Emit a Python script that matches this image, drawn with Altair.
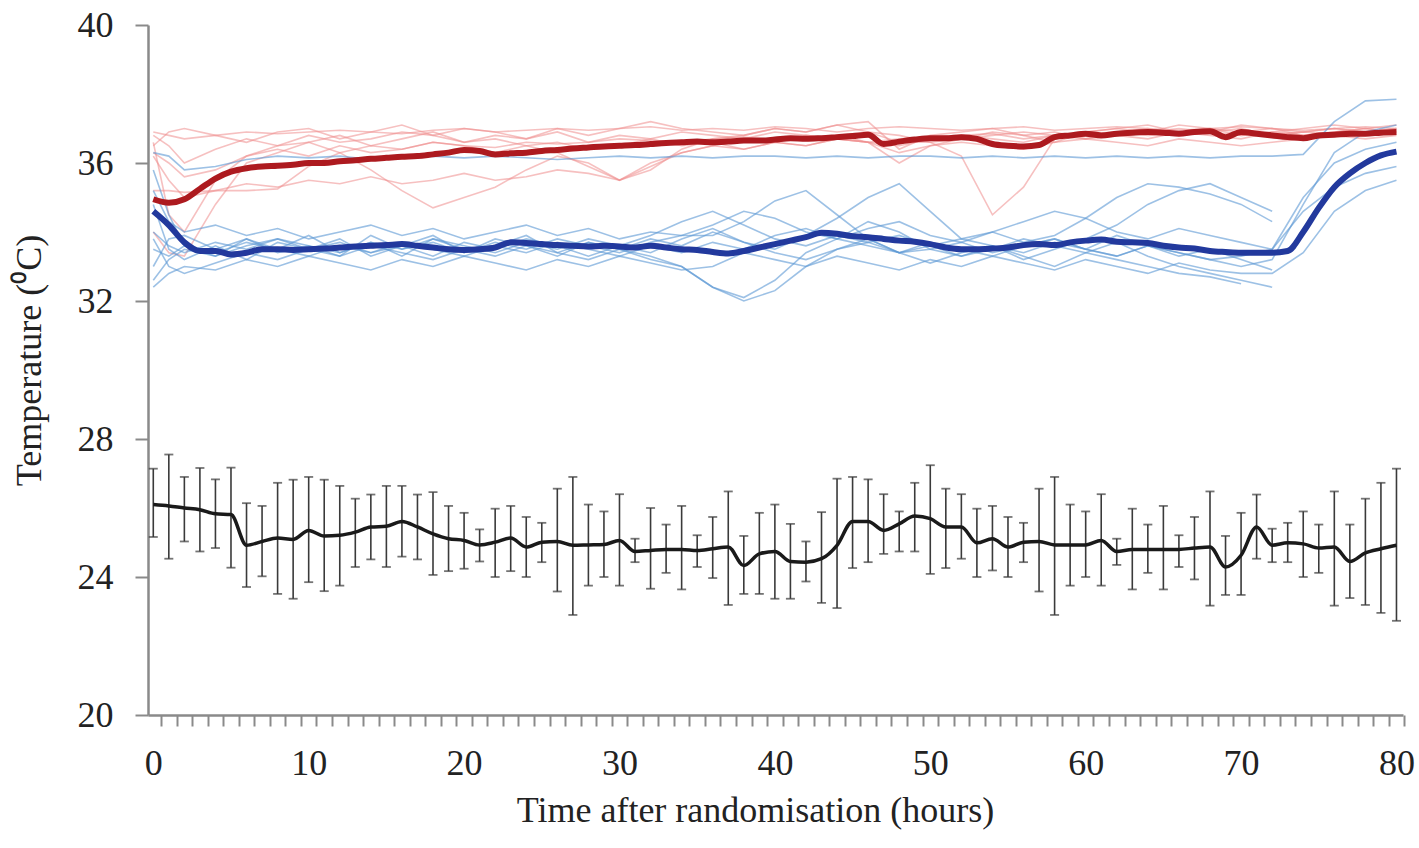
import altair as alt
import pandas as pd

# ---------------- data ----------------
HOURS = list(range(0, 81))

BLACK_MEAN = [26.10, 26.06, 26.00, 25.95, 25.83, 25.81, 24.92, 25.03, 25.13, 25.09,
              25.35, 25.19, 25.21, 25.30, 25.45, 25.47, 25.61, 25.45, 25.25, 25.11,
              25.06, 24.93, 25.01, 25.13, 24.87, 25.01, 25.03, 24.92, 24.93, 24.94,
              25.06, 24.74, 24.77, 24.80, 24.80, 24.77, 24.82, 24.87, 24.33, 24.67,
              24.74, 24.45, 24.43, 24.53, 24.92, 25.61, 25.61, 25.35, 25.54, 25.77,
              25.69, 25.45, 25.45, 24.99, 25.11, 24.87, 25.01, 25.03, 24.93, 24.93,
              24.93, 25.06, 24.74, 24.80, 24.80, 24.80, 24.80, 24.84, 24.87, 24.29,
              24.63, 25.45, 24.92, 24.99, 24.96, 24.84, 24.87, 24.45, 24.70, 24.82,
              24.92]
BLACK_HI = [27.14, 27.55, 26.90, 27.16, 26.83, 27.17, 26.14, 26.06, 26.73, 26.82,
            26.90, 26.82, 26.64, 26.27, 26.39, 26.64, 26.64, 26.39, 26.46, 26.06,
            25.86, 25.38, 25.98, 26.06, 25.74, 25.57, 26.56, 26.90, 26.10, 25.90,
            26.40, 25.11, 26.00, 25.52, 26.06, 25.21, 25.74, 26.48, 25.19, 25.86,
            26.10, 25.54, 25.03, 25.88, 26.85, 26.90, 26.83, 26.40, 25.90, 26.73,
            27.24, 26.56, 26.40, 25.98, 26.06, 25.74, 25.57, 26.56, 26.90, 26.10,
            25.90, 26.40, 25.11, 25.98, 25.52, 26.06, 25.21, 25.74, 26.48, 25.19,
            25.86, 26.39, 25.40, 25.57, 25.90, 25.52, 26.48, 25.52, 26.27, 26.73,
            27.14]
BLACK_LO = [25.16, 24.53, 25.03, 24.74, 24.84, 24.27, 23.71, 24.02, 23.51, 23.37,
            23.85, 23.59, 23.75, 24.29, 24.51, 24.29, 24.59, 24.51, 24.06, 24.17,
            24.24, 24.45, 24.00, 24.17, 24.00, 24.43, 23.58, 22.90, 23.75, 24.00,
            23.75, 24.43, 23.66, 24.12, 23.64, 24.29, 23.97, 23.19, 23.51, 23.51,
            23.37, 23.37, 23.87, 23.25, 23.10, 24.26, 24.43, 24.67, 24.74, 24.74,
            24.09, 24.26, 24.53, 24.00, 24.19, 24.00, 24.43, 23.58, 22.90, 23.75,
            24.00, 23.75, 24.35, 23.64, 24.12, 23.64, 24.29, 23.93, 23.17, 23.48,
            23.48, 24.53, 24.43, 24.43, 24.00, 24.12, 23.17, 23.39, 23.19, 22.96,
            22.73]

RED_MEAN = [34.95, 34.85, 34.95, 35.25, 35.55, 35.75, 35.85, 35.90, 35.92, 35.95,
            36.00, 36.00, 36.05, 36.08, 36.12, 36.15, 36.18, 36.20, 36.25, 36.30,
            36.38, 36.35, 36.25, 36.28, 36.30, 36.35, 36.38, 36.42, 36.45, 36.48,
            36.50, 36.52, 36.55, 36.58, 36.60, 36.62, 36.60, 36.62, 36.65, 36.65,
            36.68, 36.72, 36.70, 36.72, 36.75, 36.78, 36.82, 36.55, 36.62, 36.68,
            36.72, 36.72, 36.75, 36.70, 36.55, 36.50, 36.48, 36.52, 36.75, 36.80,
            36.85, 36.80, 36.85, 36.88, 36.90, 36.88, 36.85, 36.90, 36.92, 36.75,
            36.90, 36.85, 36.80, 36.75, 36.72, 36.80, 36.82, 36.85, 36.85, 36.88,
            36.90]
BLUE_MEAN = [34.60, 34.20, 33.70, 33.45, 33.45, 33.35, 33.40, 33.50, 33.50, 33.48,
             33.50, 33.52, 33.55, 33.58, 33.60, 33.62, 33.65, 33.60, 33.55, 33.50,
             33.48, 33.50, 33.55, 33.70, 33.68, 33.65, 33.62, 33.60, 33.58, 33.60,
             33.58, 33.55, 33.60, 33.55, 33.50, 33.48, 33.42, 33.38, 33.45, 33.55,
             33.65, 33.75, 33.85, 33.98, 33.95, 33.88, 33.85, 33.80, 33.75, 33.72,
             33.65, 33.55, 33.50, 33.50, 33.52, 33.55, 33.62, 33.65, 33.62, 33.70,
             33.75, 33.78, 33.72, 33.70, 33.68, 33.60, 33.55, 33.52, 33.45, 33.42,
             33.40, 33.40, 33.40, 33.45, 34.00, 34.70, 35.30, 35.70, 36.00, 36.22,
             36.33]

THIN_HOURS = [0, 1, 2, 4, 6, 8, 10, 12, 14, 16, 18, 20, 22, 24, 26, 28, 30, 32, 34, 36,
              38, 40, 42, 44, 46, 48, 50, 52, 54, 56, 58, 60, 62, 64, 66, 68, 70, 72, 74, 76,
              78, 80]

RED_THIN = {
    "r1": [36.9, 36.8, 36.7, 36.8, 36.9, 36.85, 36.9, 36.95, 36.9, 36.85,
           36.95, 37.0, 36.9, 36.95, 37.0, 36.95, 37.0, 37.05, 36.95, 37.0,
           36.95, 37.05, 37.0, 36.9, 37.0, 37.05, 37.0, 36.95, 37.0, 37.05,
           36.95, 37.0, 37.05, 37.0, 36.95, 37.0, 37.05, 37.0, 36.95, 37.0,
           37.05, 37.0],
    "r2": [35.2, 35.2, 35.15, 35.2, 35.2, 35.25, 35.9, 36.3, 36.5, 36.4,
           36.6, 36.5, 36.45, 36.6, 36.55, 36.6, 36.7, 36.65, 36.6, 36.7,
           36.75, 36.65, 36.7, 36.8, 36.6, 36.7, 36.75, 36.8, 36.85, 36.7,
           36.8, 36.85, 36.9, 36.8, 36.85, 36.9, 36.8, 36.85, 36.9, 36.85,
           36.9, 36.95],
    "r3": [34.0, 33.4, 33.3, 34.8, 36.0, 36.3, 36.6, 36.8, 36.5, 36.7,
           36.9, 36.6, 36.8, 36.7, 36.9, 36.6, 36.8, 36.7, 36.9, 36.8,
           36.7, 36.9, 36.8, 36.7, 36.6, 36.0, 36.5, 36.7, 36.8, 36.9,
           36.8, 36.7, 36.9, 37.0, 36.8, 36.9, 37.0, 36.8, 36.9, 37.0,
           36.9, 37.0],
    "r4": [36.2, 35.5, 35.0, 35.2, 35.4, 35.3, 35.5, 35.4, 35.6, 35.4,
           35.5, 35.7, 35.5, 35.6, 35.8, 35.7, 35.5, 36.0, 36.3, 36.5,
           36.4, 36.6, 36.5, 36.7, 36.6, 36.5, 36.7, 36.8, 36.7, 36.6,
           36.8, 36.9, 36.8, 36.7, 36.9, 36.8, 36.7, 36.9, 36.8, 36.9,
           37.0, 36.9],
    "r5": [36.8, 36.5, 36.0, 36.4, 36.7, 36.5, 36.6, 36.3, 35.8, 35.2,
           34.7, 35.0, 35.3, 35.8, 36.2, 36.0, 35.5, 35.9, 36.3, 36.5,
           36.7, 36.6, 36.8, 36.7, 36.9, 36.8, 36.6, 36.7, 36.9, 36.8,
           36.9, 36.7, 36.8, 36.9, 37.0, 36.9, 37.1, 37.0, 36.8, 36.9,
           37.0, 37.1],
    "r6": [36.5, 36.9, 37.0, 36.8, 36.6, 36.9, 37.0, 36.7, 36.9, 37.1,
           36.8, 37.0, 36.9, 36.7, 37.0, 36.8, 37.0, 37.2, 37.0, 36.9,
           36.8, 37.0, 36.9, 37.1, 36.9, 36.6, 36.6, 36.2, 34.5, 35.3,
           36.7, 36.9, 37.0, 36.9, 37.1, 37.0, 36.9, 37.0, 36.9, 37.0,
           36.9, 37.0],
    "r7": [36.3, 36.0, 35.6, 35.8, 36.2, 36.5, 36.8, 36.6, 36.7, 36.9,
           36.8, 36.6, 36.7, 36.5, 36.3, 35.9, 35.5, 35.8, 36.4, 36.7,
           36.8, 37.0, 36.9, 37.1, 37.2, 36.4, 36.8, 36.9, 37.0, 36.8,
           36.6, 36.9, 37.0, 37.1, 36.9, 37.0, 36.8, 36.9, 37.0, 37.1,
           37.0, 36.9],
    "r8": [36.6, 34.5, 34.0, 35.5, 36.2, 36.4, 36.2, 36.5, 36.3, 36.4,
           36.6, 36.5, 36.3, 36.5, 36.6, 36.4, 36.5, 36.7, 36.5, 36.6,
           36.4, 36.6, 36.5, 36.7, 36.6, 36.3, 36.5, 36.6, 36.5, 36.4,
           36.6, 36.7, 36.6, 36.5, 36.7, 36.6, 36.5, 36.6, 36.7, 36.8,
           36.7, 36.8],
}

BLUE_THIN = {
    "b1": [36.3, 36.2, 35.8, 35.9, 36.1, 36.2, 36.15, 36.2, 36.1, 36.15,
           36.2, 36.15, 36.2, 36.15, 36.1, 36.15, 36.2, 36.15, 36.2, 36.15,
           36.2, 36.2, 36.15, 36.2, 36.15, 36.2, 36.2, 36.15, 36.2, 36.15,
           36.2, 36.15, 36.2, 36.15, 36.2, 36.15, 36.2, 36.2, 36.25, 37.2,
           37.8, 37.85],
    "b2": [35.8, 34.5, 33.6, 33.3, 33.8, 33.5, 33.9, 33.4, 33.7, 33.3,
           33.8, 33.5, 33.6, 33.9, 33.4, 33.7, 33.5, 33.2, 33.0, 32.4,
           32.1, 32.6, 33.4, 33.8, 34.3, 34.0, 33.5, 33.3, 33.6, 33.2,
           33.5, 33.8, 34.2, 34.8, 35.2, 35.4, 35.0, 34.6, None, None,
           None, None],
    "b3": [34.8, 33.5, 33.2, 33.6, 33.2, 33.7, 33.5, 33.8, 33.3, 33.6,
           33.9, 33.4, 33.7, 33.5, 33.8, 33.6, 33.4, 33.7, 33.9, 33.9,
           34.3, 34.9, 35.2, 34.5, 33.8, 33.4, 33.5, 33.7, 33.4, 33.6,
           33.8, 33.5, 33.3, 33.6, 33.4, 33.2, 33.0, 33.2, 34.8, 36.3,
           36.9, 37.1],
    "b4": [33.0, 33.8, 33.9, 33.5, 33.8, 33.4, 33.6, 33.3, 33.9, 33.5,
           33.7, 33.4, 33.8, 33.6, 33.3, 33.7, 33.5, 33.8, 33.6, 34.0,
           33.7, 33.5, 33.9, 34.4, 35.0, 35.4, 34.6, 33.8, 33.6, 33.4,
           33.7, 33.5, 33.9, 33.6, 33.3, 33.5, 33.2, 32.9, None, None,
           None, None],
    "b5": [32.4, 32.8, 33.0, 32.9, 33.2, 33.0, 33.3, 33.1, 32.9, 33.2,
           33.0, 33.3, 33.1, 32.9, 33.2, 33.0, 33.3, 33.1, 32.9, 33.0,
           33.4, 33.2, 33.0, 33.3, 33.1, 32.9, 33.2, 33.0, 33.3, 33.1,
           32.9, 33.2, 33.0, 32.8, 33.1, 32.9, 32.8, 32.8, 33.4, 34.6,
           35.2, 35.5],
    "b6": [35.2, 34.3, 34.0, 34.2, 33.9, 34.1, 33.8, 34.0, 34.2, 33.9,
           34.1, 33.8, 34.0, 34.2, 33.9, 34.1, 33.8, 34.0, 33.9, 34.2,
           34.6, 34.4, 34.0, 33.8, 34.1, 34.3, 33.9, 33.7, 34.0, 34.3,
           34.6, 34.4, 34.0, 33.8, 34.1, 33.9, 33.7, 33.5, 35.0, 36.0,
           36.4, 36.6],
    "b7": [33.8, 33.0, 32.8, 33.1, 33.4, 33.2, 33.5, 33.3, 33.6, 33.4,
           33.2, 33.5, 33.3, 33.6, 33.4, 33.2, 33.5, 33.3, 33.0, 32.4,
           32.0, 32.3, 33.0, 33.5, 33.8, 33.4, 33.1, 33.4, 33.6, 33.3,
           33.0, 33.4, 33.7, 33.3, 33.0, 32.8, 32.6, 32.4, None, None,
           None, None],
    "b8": [34.0, 33.6, 33.4, 33.7, 33.5, 33.8, 33.6, 33.4, 33.7, 33.5,
           33.8, 33.6, 33.4, 33.7, 33.5, 33.8, 33.6, 33.9, 34.3, 34.6,
           34.2, 33.8, 33.6, 33.9, 33.7, 33.4, 33.6, 33.8, 34.0, 33.7,
           33.9, 34.4, 35.0, 35.4, 35.3, 35.1, 34.8, 34.3, None, None,
           None, None],
    "b9": [33.5, 33.3, 33.6, 33.4, 33.7, 33.5, 33.3, 33.6, 33.4, 33.7,
           33.5, 33.3, 33.6, 33.4, 33.7, 33.5, 33.3, 33.6, 33.4, 33.7,
           33.5, 33.9, 34.1, 33.8, 33.6, 33.4, 33.7, 33.5, 33.3, 33.6,
           33.8, 33.5, 33.3, 33.6, 33.4, 33.2, 33.3, 33.5, 34.6, 35.3,
           35.7, 35.9],
    "b10": [32.6, 33.2, 33.5, 33.3, 33.6, 33.8, 33.5, 33.7, 33.4, 33.6,
            33.3, 33.7, 33.5, 33.8, 33.6, 33.3, 33.6, 33.4, 33.8, 34.1,
            33.7, 33.4, 33.2, 33.5, 33.7, 33.9, 33.6, 33.3, 33.5, 33.8,
            33.6, 33.4, 33.2, 33.0, 32.8, 32.7, 32.5, None, None, None,
            None, None],
}

Y_TICKS = [20, 24, 28, 32, 36, 40]
X_TITLE = "Time after randomisation (hours)"
Y_TITLE = "Temperature (\u2070C)"

# ---------------- tables ----------------
rows = []
for grp, dct in (("red", RED_THIN), ("blue", BLUE_THIN)):
    for name, vals in dct.items():
        for h, v in zip(THIN_HOURS, vals):
            if v is not None:
                rows.append({"hour": h, "temp": v, "series": name, "group": grp})
thin_df = pd.DataFrame(rows)

mean_rows = []
for name, vals in (("red", RED_MEAN), ("blue", BLUE_MEAN)):
    for h, v in zip(HOURS, vals):
        mean_rows.append({"hour": h, "temp": v, "group": name})
mean_df = pd.DataFrame(mean_rows)

black_df = pd.DataFrame({"hour": HOURS, "mean": BLACK_MEAN, "hi": BLACK_HI, "lo": BLACK_LO})

# ---------------- scales / axes ----------------
FONT = "Liberation Serif"
AX_GRAY = "#8a8a8a"
TXT = "#222222"
PXH = 1255 / (80.42 + 0.34)

x_scale = alt.Scale(domain=[-0.34, 80.42], nice=False, zero=False)
y_scale = alt.Scale(domain=[20, 40], nice=False, zero=False)

x_axis = alt.Axis(
    values=HOURS,
    labelExpr="datum.value % 10 == 0 ? datum.label : ''",
    tickOffset=PXH / 2, labelOffset=-PXH / 2,
    tickSize=11, tickWidth=2, tickColor=AX_GRAY,
    domainColor=AX_GRAY, domainWidth=2.5,
    labelFont=FONT, labelFontSize=36, labelColor=TXT, labelPadding=20,
    labelOverlap=False, labelFlush=False, grid=False,
    title=X_TITLE, titleFont=FONT, titleFontSize=36, titleFontWeight="normal",
    titleColor=TXT, titleX=607, titleY=106, titleAlign="center",
    titleBaseline="alphabetic",
)
y_axis = alt.Axis(
    values=Y_TICKS,
    tickSize=13, tickWidth=2, tickColor=AX_GRAY,
    domainColor=AX_GRAY, domainWidth=2.5,
    labelFont=FONT, labelFontSize=36, labelColor=TXT, labelPadding=22,
    grid=False,
    title=Y_TITLE, titleFont=FONT, titleFontSize=36, titleFontWeight="normal",
    titleColor=TXT, titleX=-108, titleY=335, titleAngle=270, titleAlign="center",
    titleBaseline="alphabetic",
)


def X():
    return alt.X("hour:Q", scale=x_scale, axis=x_axis, title=X_TITLE)


def Y(field):
    return alt.Y(f"{field}:Q", scale=y_scale, axis=y_axis, title=Y_TITLE)


color_mean = alt.Color("group:N", scale=alt.Scale(domain=["red", "blue"],
                                                  range=["#ad1a1f", "#22399d"]), legend=None)

thin_red = alt.Chart(thin_df[thin_df.group == "red"]).mark_line(
    strokeWidth=1.6, opacity=0.55, interpolate="linear", color="#ee8c8c"
).encode(x=X(), y=Y("temp"), detail="series:N")

thin_blue = alt.Chart(thin_df[thin_df.group == "blue"]).mark_line(
    strokeWidth=1.6, opacity=0.6, interpolate="linear", color="#5b97d3"
).encode(x=X(), y=Y("temp"), detail="series:N")

means = alt.Chart(mean_df).mark_line(strokeWidth=6, interpolate="monotone").encode(
    x=X(), y=Y("temp"), color=color_mean, detail="group:N"
)

bars = alt.Chart(black_df).mark_rule(color="#3a3a3a", strokeWidth=1.6).encode(
    x=X(), y=Y("lo"), y2="hi:Q"
)
cap_hi = alt.Chart(black_df).mark_tick(color="#3a3a3a", size=9, thickness=1.8,
                                       orient="horizontal").encode(x=X(), y=Y("hi"))
cap_lo = alt.Chart(black_df).mark_tick(color="#3a3a3a", size=9, thickness=1.8,
                                       orient="horizontal").encode(x=X(), y=Y("lo"))
black_line = alt.Chart(black_df).mark_line(color="#1a1a1a", strokeWidth=3.5,
                                           interpolate="monotone").encode(
    x=X(), y=Y("mean")
)

chart = alt.layer(thin_red, thin_blue, means, bars, cap_hi, cap_lo, black_line).properties(
    width=1255, height=690,
    autosize=alt.AutoSizeParams(type="none"),
    padding={"left": 148, "top": 25, "right": 16, "bottom": 133},
    background="white",
).configure_view(stroke=None)

chart.save("out.html", embed_options={"renderer": "svg", "actions": False})
